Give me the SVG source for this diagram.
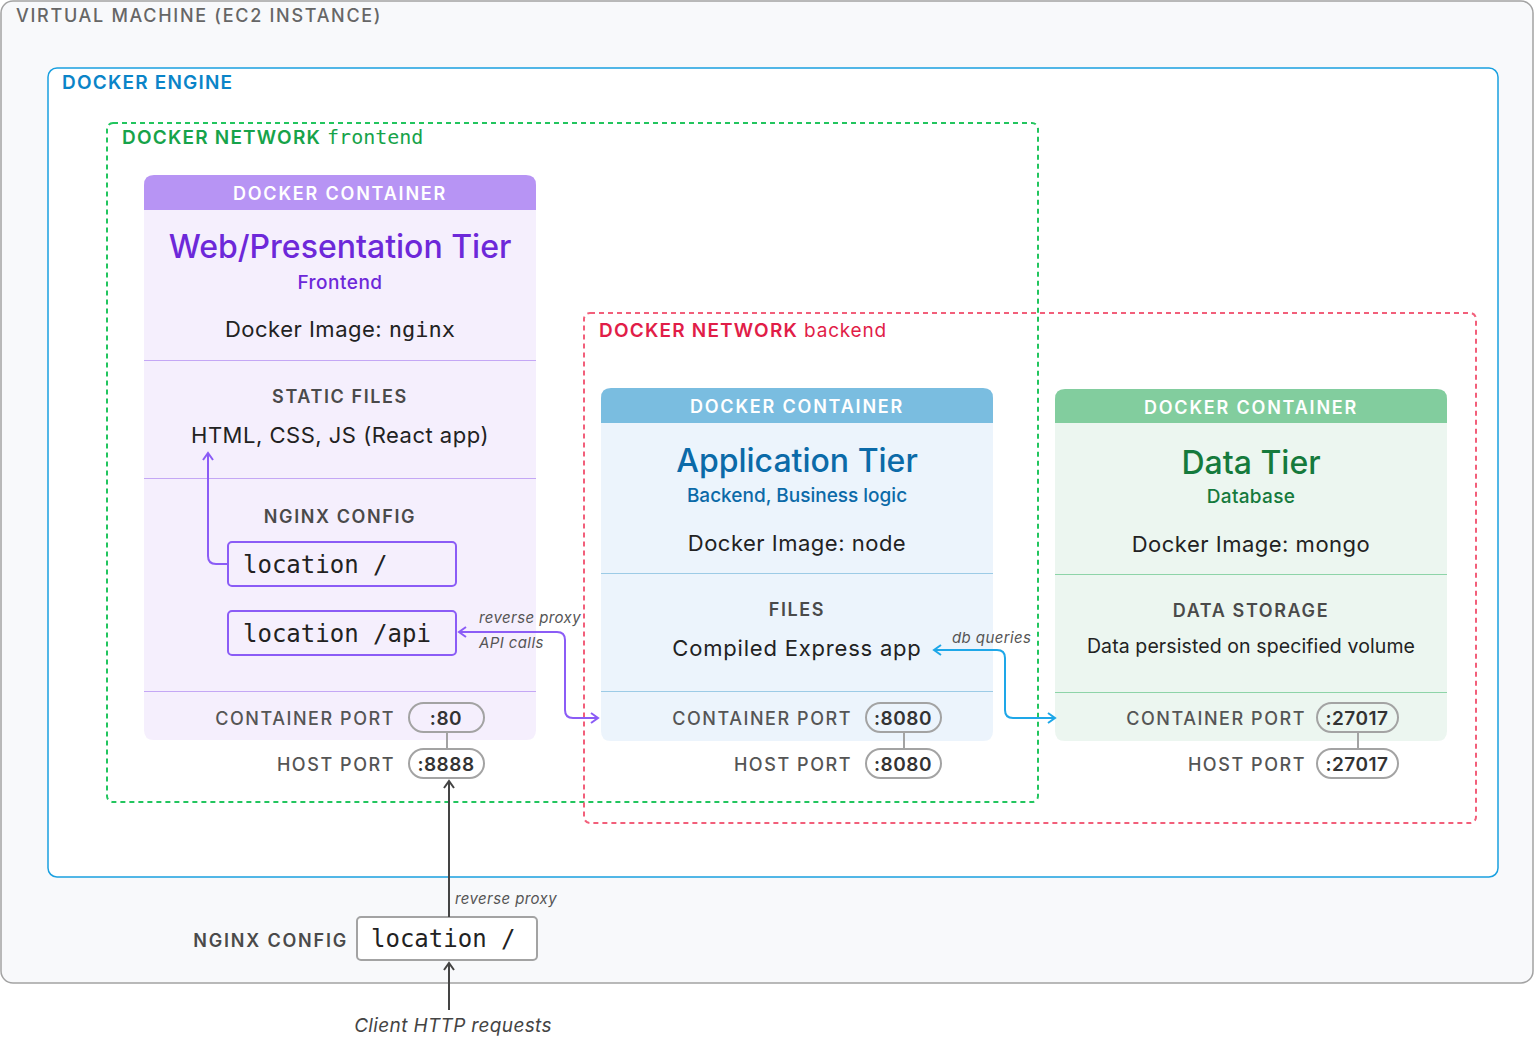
<svg xmlns="http://www.w3.org/2000/svg" width="1534" height="1040" viewBox="0 0 1534 1040">
<defs>
<style>
text{font-family:Inter,"Noto Sans","Liberation Sans",sans-serif;}
.mono{font-family:"DejaVu Sans Mono","Liberation Mono",monospace;}
.cap{font-size:18px;font-weight:600;fill:#4a4a4a;letter-spacing:1.6px;text-anchor:middle;}
.port{font-size:18px;font-weight:500;fill:#555;letter-spacing:1.55px;text-anchor:end;}
.pill{fill:none;stroke:#a3a3a3;stroke-width:2;}
.pilltxt{font-size:19px;font-weight:600;fill:#333;text-anchor:middle;letter-spacing:0.5px;}
.hdr{font-size:18px;font-weight:600;fill:#fff;text-anchor:middle;letter-spacing:1.8px;}
.body{font-size:22px;fill:#222;text-anchor:middle;letter-spacing:0.5px;}
.lbl{font-size:15px;font-style:italic;fill:#555;letter-spacing:0.4px;}
.loc{fill:none;stroke:#8b5cf6;stroke-width:2;}
</style>
<marker id="ap" viewBox="0 0 12 12" refX="10" refY="6" markerWidth="12" markerHeight="12" markerUnits="userSpaceOnUse" orient="auto-start-reverse"><path d="M3,1 L10,6 L3,11" fill="none" stroke="#8b5cf6" stroke-width="2"/></marker>
<marker id="ab" viewBox="0 0 12 12" refX="10" refY="6" markerWidth="12" markerHeight="12" markerUnits="userSpaceOnUse" orient="auto-start-reverse"><path d="M3,1 L10,6 L3,11" fill="none" stroke="#1ea7e8" stroke-width="2"/></marker>
<marker id="ag" viewBox="0 0 12 12" refX="10" refY="6" markerWidth="12" markerHeight="12" markerUnits="userSpaceOnUse" orient="auto-start-reverse"><path d="M3,1 L10,6 L3,11" fill="none" stroke="#444" stroke-width="2"/></marker>
</defs>

<g id="vm">
<rect x="1" y="1" width="1532" height="982" rx="12" fill="#f8f9fb" stroke="#a3a3a3" stroke-width="1.5"/>
<text x="16" y="22" font-size="18" font-weight="500" fill="#666" letter-spacing="1.7">VIRTUAL MACHINE (EC2 INSTANCE)</text>
</g>

<g id="docker-engine">
<rect x="48" y="68" width="1450" height="809" rx="9" fill="#fff" stroke="#1aa0e0" stroke-width="1.5"/>
<text x="62" y="89" font-size="19" font-weight="600" fill="#0a84c8" letter-spacing="1.2">DOCKER ENGINE</text>
</g>

<g id="net-frontend">
<rect x="107" y="123" width="931" height="679" rx="6" fill="none" stroke="#22c55e" stroke-width="2" stroke-dasharray="5,4"/>
<text x="122" y="144" font-size="19" font-weight="600" fill="#16a34a" letter-spacing="1.2">DOCKER NETWORK <tspan class="mono" font-weight="400" font-size="20" letter-spacing="0">frontend</tspan></text>
</g>

<g id="net-backend">
<rect x="584" y="313" width="892" height="510" rx="6" fill="none" stroke="#f25f7a" stroke-width="2" stroke-dasharray="5,4"/>
<text x="599" y="337" font-size="19" font-weight="600" fill="#e11d48" letter-spacing="1.2">DOCKER NETWORK <tspan font-weight="400" letter-spacing="0.8">backend</tspan></text>
</g>

<g id="web-tier">
<path d="M154,175 H526 Q536,175 536,185 V730 Q536,740 526,740 H154 Q144,740 144,730 V185 Q144,175 154,175 Z" fill="#f5effd"/>
<path d="M154,175 H526 Q536,175 536,185 V210 H144 V185 Q144,175 154,175 Z" fill="#b794f4"/>
<text class="hdr" x="340" y="200">DOCKER CONTAINER</text>
<text x="340" y="258" font-size="32" font-weight="500" fill="#6d28d9" text-anchor="middle">Web/Presentation Tier</text>
<text x="340" y="289" font-size="19" font-weight="500" fill="#6d28d9" text-anchor="middle" letter-spacing="0.5">Frontend</text>
<text class="body" x="340" y="337">Docker Image: <tspan class="mono" letter-spacing="0">nginx</tspan></text>
<line x1="144" y1="360.5" x2="536" y2="360.5" stroke="#c4a7f5" stroke-width="1"/>
<text class="cap" x="340" y="403">STATIC FILES</text>
<text class="body" x="340" y="443">HTML, CSS, JS (React app)</text>
<line x1="144" y1="478.5" x2="536" y2="478.5" stroke="#c4a7f5" stroke-width="1"/>
<text class="cap" x="340" y="523">NGINX CONFIG</text>
<rect class="loc" x="228" y="542" width="228" height="44" rx="4"/>
<text class="mono" x="243" y="573" font-size="24" fill="#222">location /</text>
<rect class="loc" x="228" y="611" width="228" height="44" rx="4"/>
<text class="mono" x="243" y="642" font-size="24" fill="#222">location /api</text>
<line x1="144" y1="691.5" x2="536" y2="691.5" stroke="#c4a7f5" stroke-width="1"/>
<text class="port" x="395" y="725">CONTAINER PORT</text>
<rect class="pill" x="409" y="703" width="75" height="29" rx="14.5"/>
<text class="pilltxt" x="446" y="725">:80</text>
<line x1="447" y1="732" x2="447" y2="749" stroke="#a3a3a3" stroke-width="2"/>
<text class="port" x="395" y="771">HOST PORT</text>
<rect class="pill" x="409" y="749" width="75" height="29" rx="14.5" fill="#fff"/>
<text class="pilltxt" x="446" y="771">:8888</text>
</g>

<g id="app-tier">
<path d="M611,388 H983 Q993,388 993,398 V731 Q993,741 983,741 H611 Q601,741 601,731 V398 Q601,388 611,388 Z" fill="#ecf4fc"/>
<path d="M611,388 H983 Q993,388 993,398 V423 H601 V398 Q601,388 611,388 Z" fill="#7abde0"/>
<text class="hdr" x="797" y="413">DOCKER CONTAINER</text>
<text x="797" y="472" font-size="32" font-weight="500" fill="#0b6aa8" text-anchor="middle">Application Tier</text>
<text x="797" y="502" font-size="19" font-weight="500" fill="#0b6aa8" text-anchor="middle">Backend, Business logic</text>
<text class="body" x="797" y="551">Docker Image: node</text>
<line x1="601" y1="573.5" x2="993" y2="573.5" stroke="#9ccbe6" stroke-width="1"/>
<text class="cap" x="797" y="616">FILES</text>
<text class="body" x="797" y="656" style="letter-spacing:0.8px">Compiled Express app</text>
<line x1="601" y1="691.5" x2="993" y2="691.5" stroke="#9ccbe6" stroke-width="1"/>
<text class="port" x="852" y="725">CONTAINER PORT</text>
<rect class="pill" x="866" y="703" width="75" height="29" rx="14.5"/>
<text class="pilltxt" x="903" y="725">:8080</text>
<line x1="904" y1="732" x2="904" y2="749" stroke="#a3a3a3" stroke-width="2"/>
<text class="port" x="852" y="771">HOST PORT</text>
<rect class="pill" x="866" y="749" width="75" height="29" rx="14.5" fill="#fff"/>
<text class="pilltxt" x="903" y="771">:8080</text>
</g>

<g id="data-tier">
<path d="M1065,389 H1437 Q1447,389 1447,399 V731 Q1447,741 1437,741 H1065 Q1055,741 1055,731 V399 Q1055,389 1065,389 Z" fill="#ecf6f0"/>
<path d="M1065,389 H1437 Q1447,389 1447,399 V423 H1055 V399 Q1055,389 1065,389 Z" fill="#82cd9e"/>
<text class="hdr" x="1251" y="414">DOCKER CONTAINER</text>
<text x="1251" y="474" font-size="32" font-weight="500" fill="#157a3c" text-anchor="middle">Data Tier</text>
<text x="1251" y="503" font-size="19" font-weight="500" fill="#157a3c" text-anchor="middle" letter-spacing="0.3">Database</text>
<text class="body" x="1251" y="552">Docker Image: mongo</text>
<line x1="1055" y1="574.5" x2="1447" y2="574.5" stroke="#8dd4a8" stroke-width="1"/>
<text class="cap" x="1251" y="617">DATA STORAGE</text>
<text x="1251" y="653" font-size="19.5" fill="#222" text-anchor="middle" letter-spacing="0.1">Data persisted on specified volume</text>
<line x1="1055" y1="692.5" x2="1447" y2="692.5" stroke="#8dd4a8" stroke-width="1"/>
<text class="port" x="1306" y="725">CONTAINER PORT</text>
<rect class="pill" x="1317" y="703" width="81" height="29" rx="14.5"/>
<text class="pilltxt" x="1357" y="725">:27017</text>
<line x1="1358" y1="732" x2="1358" y2="749" stroke="#a3a3a3" stroke-width="2"/>
<text class="port" x="1306" y="771">HOST PORT</text>
<rect class="pill" x="1317" y="749" width="81" height="29" rx="14.5" fill="#fff"/>
<text class="pilltxt" x="1357" y="771">:27017</text>
</g>

<g id="host-nginx">
<text x="348" y="947" font-size="18" font-weight="600" fill="#4a4a4a" letter-spacing="1.8" text-anchor="end">NGINX CONFIG</text>
<rect x="357" y="917" width="180" height="43" rx="4" fill="#fff" stroke="#a3a3a3" stroke-width="2"/>
<text class="mono" x="371" y="947" font-size="24" fill="#222">location /</text>
</g>

<g id="connectors" fill="none" stroke-width="2">
<path d="M228,564 H216 Q208,564 208,556 V453" stroke="#8b5cf6" marker-end="url(#ap)"/>
<path d="M459,632 H557 Q565,632 565,640 V710 Q565,718 573,718 H598" stroke="#8b5cf6" marker-start="url(#ap)" marker-end="url(#ap)"/>
<path d="M934,650 H997 Q1005,650 1005,658 V710 Q1005,718 1013,718 H1055" stroke="#1ea7e8" marker-start="url(#ab)" marker-end="url(#ab)"/>
<path d="M449,917 V781" stroke="#444" marker-end="url(#ag)"/>
<path d="M449,1010 V963" stroke="#444" marker-end="url(#ag)"/>
<text class="lbl" x="479" y="623" stroke="none">reverse proxy</text>
<text class="lbl" x="479" y="648" stroke="none">API calls</text>
<text class="lbl" x="952" y="643" stroke="none">db queries</text>
<text class="lbl" x="455" y="904" stroke="none">reverse proxy</text>
<text x="453" y="1032" font-size="19" font-style="italic" fill="#444" text-anchor="middle" letter-spacing="0.35" stroke="none">Client HTTP requests</text>
</g>
</svg>
